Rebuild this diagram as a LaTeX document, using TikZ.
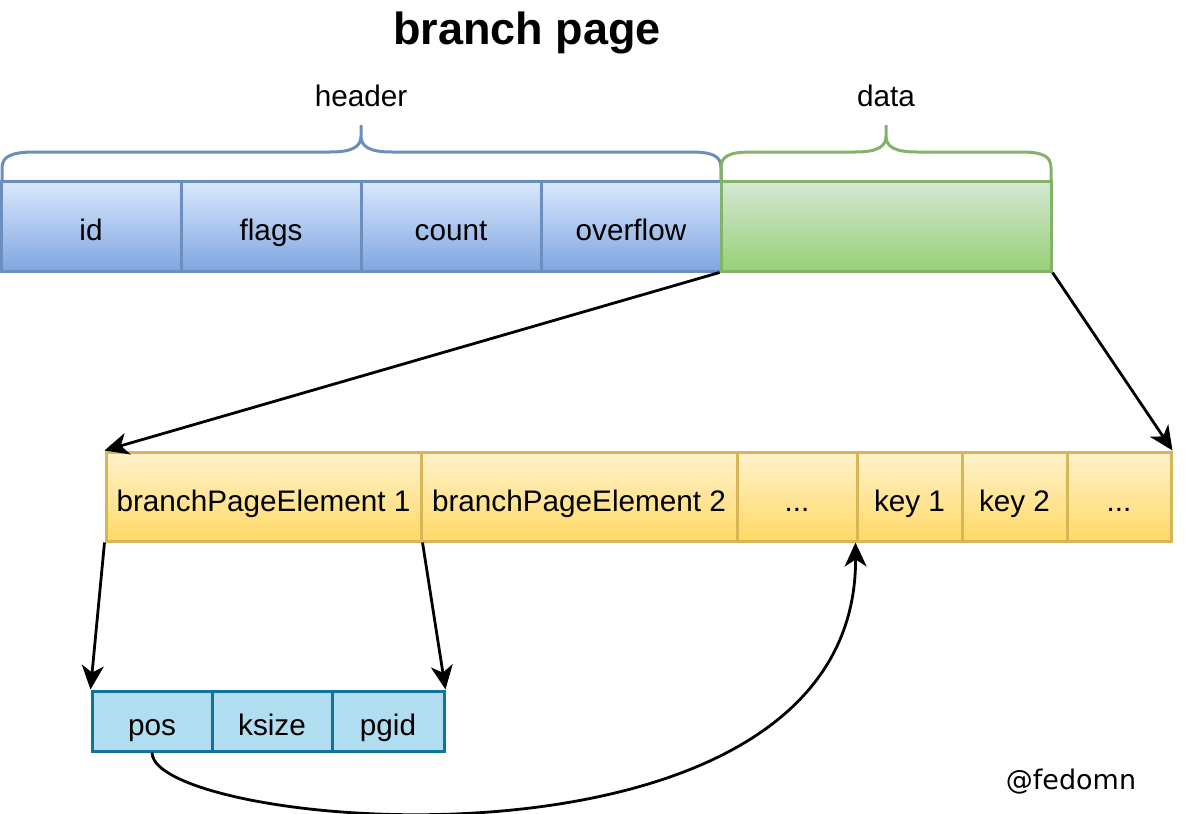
\documentclass[tikz,border=0pt]{standalone}
\usepackage{fontspec}
\setmainfont{Liberation Sans}
\newfontfamily\signfont{DejaVu Sans}
\usetikzlibrary{arrows.meta,fit}
\definecolor{hstroke}{HTML}{6C8EBF}
\definecolor{htop}{HTML}{DAE8FC}
\definecolor{hbot}{HTML}{7EA6E0}
\definecolor{gstroke}{HTML}{82B366}
\definecolor{gtop}{HTML}{D5E8D4}
\definecolor{gbot}{HTML}{97D077}
\definecolor{ystroke}{HTML}{D6B656}
\definecolor{ytop}{HTML}{FFF2CC}
\definecolor{ybot}{HTML}{FFD966}
\definecolor{bstroke}{HTML}{10739E}
\definecolor{bfill}{HTML}{B1DDF0}
\tikzset{
  celltext/.style={font=\fontsize{14.85}{18}\selectfont, inner sep=0pt,
    text height=0.88em, text depth=0pt, anchor=center, yshift=-3pt},
  cellbase/.style={rectangle, inner sep=0pt, line width=1.5pt,
    label={[celltext]center:#1}},
  hcell/.style={cellbase=#1, draw=hstroke, top color=htop, bottom color=hbot},
  gcell/.style={cellbase=#1, draw=gstroke, top color=gtop, bottom color=gbot},
  ycell/.style={cellbase=#1, draw=ystroke, top color=ytop, bottom color=ybot},
  bcell/.style={cellbase=#1, draw=bstroke, fill=bfill},
  lbl/.style={font=\fontsize{14.85}{18}\selectfont, inner sep=0pt},
  conn/.style={line width=1.4pt, -{Stealth[length=12pt,width=11pt,inset=3.5pt]}},
  bracehead/.style={line width=1.5pt, draw=hstroke},
  bracedata/.style={line width=1.5pt, draw=gstroke}
}
\begin{document}
\begin{tikzpicture}[x=0.5pt,y=-0.5pt]
\useasboundingbox (0,0) rectangle (1197,813);
% title
\node[font=\fontsize{22.5}{26}\selectfont\bfseries, inner sep=0pt] (title) at (527,33) {branch page};
% header cells
\node[hcell={id}, fit={(1,181)(181,271)}] (id) {};
\node[hcell={flags}, fit={(181,181)(361,271)}] (flags) {};
\node[hcell={count}, fit={(361,181)(541,271)}] (count) {};
\node[hcell={overflow}, fit={(541,181)(721,271)}] (overflow) {};
\node[gcell={}, fit={(721,181)(1051,271)}] (data) {};
% braces
\draw[bracehead] (2,181) -- (2,168) .. controls (2,156) and (12,152) .. (35,152)
  -- (330,152) .. controls (352,152) and (361,147) .. (361,136) -- (361,125)
  (361,136) .. controls (361,147) and (370,152) .. (392,152)
  -- (690,152) .. controls (713,152) and (721,156) .. (721,168) -- (721,181);
\draw[bracedata] (721,181) -- (721,168) .. controls (721,156) and (729,152) .. (752,152)
  -- (855,152) .. controls (877,152) and (886,147) .. (886,136) -- (886,125)
  (886,136) .. controls (886,147) and (895,152) .. (917,152)
  -- (1020,152) .. controls (1043,152) and (1051,156) .. (1051,168) -- (1051,181);
\node[lbl] (hlabel) at (361,96) {header};
\node[lbl] (dlabel) at (886,96) {data};
% element row
\node[ycell={branchPageElement 1}, fit={(106,452)(421,541)}] (e1) {};
\node[ycell={branchPageElement 2}, fit={(421,452)(737,541)}] (e2) {};
\node[ycell={...}, fit={(737,452)(857,541)}] (dots1) {};
\node[ycell={key 1}, fit={(857,452)(962,541)}] (key1) {};
\node[ycell={key 2}, fit={(962,452)(1067,541)}] (key2) {};
\node[ycell={...}, fit={(1067,452)(1171,541)}] (dots2) {};
% element struct
\node[bcell={pos}, fit={(92,691)(212,751)}] (pos) {};
\node[bcell={ksize}, fit={(212,691)(332,751)}] (ksize) {};
\node[bcell={pgid}, fit={(332,691)(444,751)}] (pgid) {};
% connectors
\draw[conn] (data.south west) -- (e1.north west);
\draw[conn] (data.south east) -- (dots2.north east);
\draw[conn] (e1.south west) -- (pos.north west);
\draw[conn] (e1.south east) -- (pgid.north east);
\draw[conn] (pos.south) .. controls (152,830) and (857,895) .. (key1.south west);
% signature
\node[font=\signfont\fontsize{13.5}{16}\selectfont, inner sep=0pt] (sign) at (1071,782) {@fedomn};
\end{tikzpicture}
\end{document}
